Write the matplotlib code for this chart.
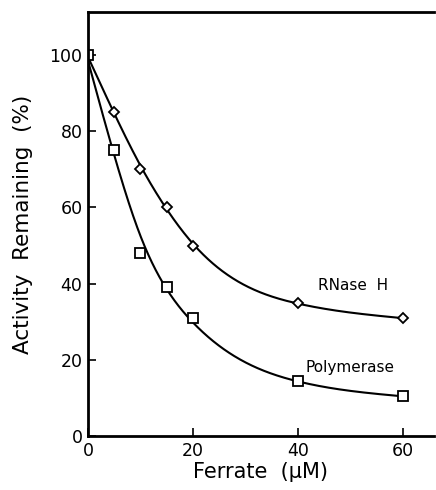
import numpy as np
import matplotlib
matplotlib.use("Agg")
import matplotlib.pyplot as plt

# Data
ferrate = [0, 5, 10, 15, 20, 40, 60]
rnase_h = [100, 85, 70, 60, 50, 35, 31]
polymerase = [100, 75, 48, 39, 31, 14.5, 10.5]
x_ticks = [0, 20, 40, 60]
y_ticks = [0, 20, 40, 60, 80, 100]


def smooth_curve(x, y, lam_cont=60.0, step=0.1):
    """Penalised (smoothing-spline-like) guide curve through the data."""
    x = np.asarray(x, float); y = np.asarray(y, float)
    xg = np.arange(x.min(), x.max() + step / 2, step)
    n = len(xg)
    idx = np.round((x - x.min()) / step).astype(int)
    W = np.zeros((n, n)); rhs = np.zeros(n)
    W[idx, idx] = 1.0; rhs[idx] = y
    D = np.diff(np.eye(n), n=2, axis=0)
    lam = lam_cont / step ** 3
    f = np.linalg.solve(W + lam * D.T @ D, rhs)
    return xg, f


plt.rcParams['font.family'] = ['DejaVu Sans']
fig = plt.figure(figsize=(4.36, 4.90), dpi=100)
ax = fig.add_axes([0.2018, 0.110, 0.793, 0.8655])

for ys in (rnase_h, polymerase):
    xg, f = smooth_curve(ferrate, ys)
    ax.plot(xg, f, color='black', lw=1.5)
ax.plot(ferrate, rnase_h, linestyle='none', marker='D', ms=5, mfc='white', mec='black', mew=1.3)
ax.plot(ferrate, polymerase, linestyle='none', marker='s', ms=6.5, mfc='white', mec='black', mew=1.3)

ax.set_xlim(0, 65.9)
ax.set_ylim(0, 111.3)
ax.set_xticks(x_ticks)
ax.set_yticks(y_ticks)
ax.tick_params(direction='in', length=6, width=1.2, labelsize=12.5, pad=4)
for s in ['left', 'bottom', 'top']:
    ax.spines[s].set_linewidth(2)
ax.spines['right'].set_visible(False)

ax.set_xlabel('Ferrate  (\u03bcM)', fontsize=15, labelpad=2)
ax.set_ylabel('Activity  Remaining  (%)', fontsize=15.5, labelpad=12)

ax.text(43.9, 39.6, 'RNase  H', fontsize=11, ha='left', va='center')
ax.text(41.5, 18.1, 'Polymerase', fontsize=11, ha='left', va='center')

fig.savefig('out.png', dpi=100)
